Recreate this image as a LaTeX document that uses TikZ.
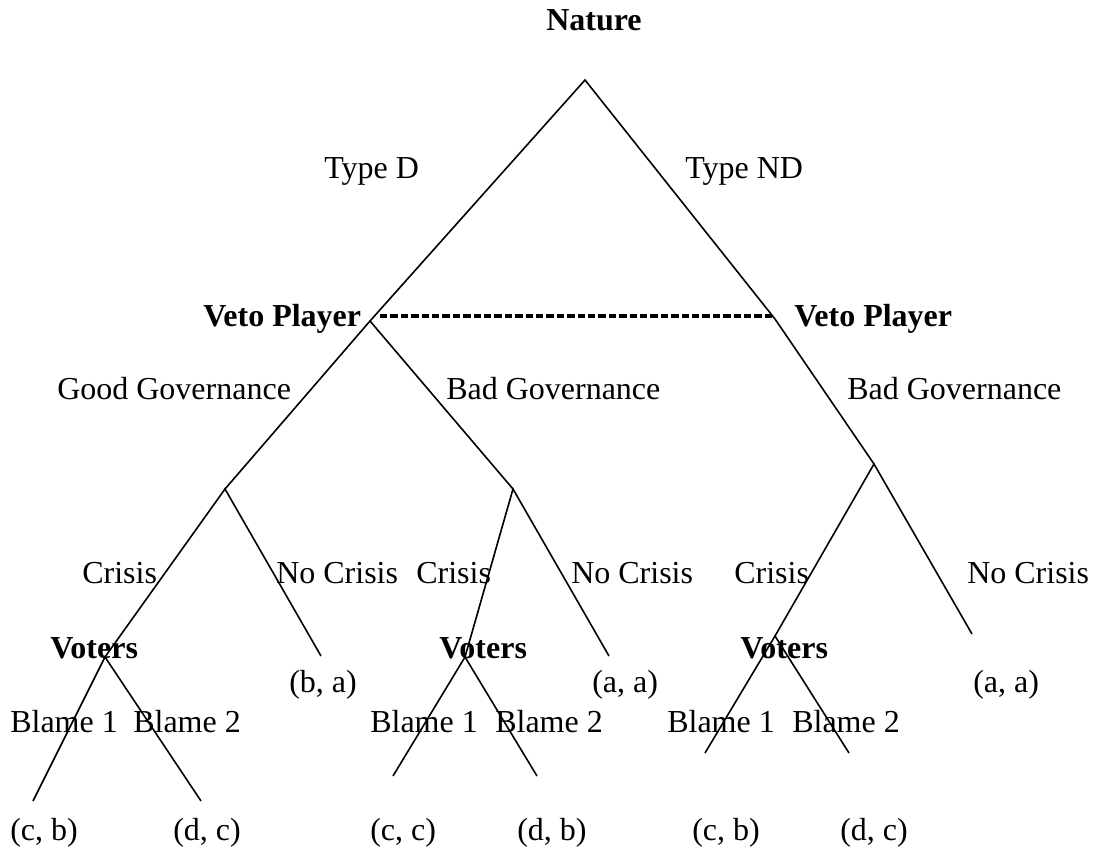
\documentclass[tikz,border=0pt]{standalone}
\usepackage{fontspec}
\setmainfont{Liberation Serif}
\begin{document}
\begin{tikzpicture}[x=0.75pt,y=-0.75pt,
  edge/.style={line width=1.2pt},
  infoset/.style={line width=2.6pt,dash pattern=on 5.6pt off 2.2pt},
  lbl/.style={anchor=base west,inner sep=0pt,font=\fontsize{24}{28}\selectfont},
  plr/.style={lbl,font=\fontsize{24}{28}\selectfont\bfseries}]
\useasboundingbox (0,0) rectangle (1093,850);
% tree vertices
\coordinate (root) at (585,80);
\coordinate (vpL) at (370,321);
\coordinate (vpR) at (775,319);
\coordinate (ggL) at (225,489);
\coordinate (bgM) at (513,489);
\coordinate (bgR) at (874,464);
\coordinate (vL) at (105,657);
\coordinate (ncL) at (321,656);
\coordinate (vM) at (465,657);
\coordinate (ncM) at (609,656);
\coordinate (vR) at (775,636);
\coordinate (ncR) at (972,634);
\coordinate (b1L) at (33,801);
\coordinate (b2L) at (201,801);
\coordinate (b1M) at (393,776);
\coordinate (b2M) at (537,776);
\coordinate (b1R) at (705,753);
\coordinate (b2R) at (849,753);
\coordinate (dsA) at (380,316);
\coordinate (dsB) at (772,316);
% edges
\draw[edge] (vpL) -- (root) -- (vpR);
\draw[edge] (ggL) -- (vpL) -- (bgM);
\draw[edge] (vpR) -- (bgR);
\draw[edge] (vL) -- (ggL) -- (ncL);
\draw[edge] (vM) -- (bgM) -- (ncM);
\draw[edge] (vR) -- (bgR) -- (ncR);
\draw[edge] (b1L) -- (vL) -- (b2L);
\draw[edge] (b1M) -- (vM) -- (b2M);
\draw[edge] (b1R) -- (vR) -- (b2R);
\draw[infoset] (dsA) -- (dsB);
% labels
\node[plr] (tNature) at (546,30) {Nature};
\node[lbl] (tTD) at (324,178) {Type D};
\node[lbl] (tTND) at (685,178) {Type ND};
\node[plr] (tVPL) at (203,326) {Veto Player};
\node[plr] (tVPR) at (794,326) {Veto Player};
\node[lbl] (tGG) at (57,399) {Good Governance};
\node[lbl] (tBGM) at (446,399) {Bad Governance};
\node[lbl] (tBGR) at (847,399) {Bad Governance};
\node[lbl] (tCL) at (82,583) {Crisis};
\node[lbl] (tNCL) at (276,583) {No Crisis};
\node[lbl] (tCM) at (416,583) {Crisis};
\node[lbl] (tNCM) at (571,583) {No Crisis};
\node[lbl] (tCR) at (734,583) {Crisis};
\node[lbl] (tNCR) at (967,583) {No Crisis};
\node[plr] (tVL) at (50,658) {Voters};
\node[plr] (tVM) at (439,658) {Voters};
\node[plr] (tVR) at (740,658) {Voters};
\node[lbl] (pBA) at (289,692) {(b, a)};
\node[lbl] (pAAM) at (592,692) {(a, a)};
\node[lbl] (pAAR) at (973,692) {(a, a)};
\node[lbl] (tB1L) at (10,732) {Blame 1};
\node[lbl] (tB2L) at (133,732) {Blame 2};
\node[lbl] (tB1M) at (370,732) {Blame 1};
\node[lbl] (tB2M) at (495,732) {Blame 2};
\node[lbl] (tB1R) at (667,732) {Blame 1};
\node[lbl] (tB2R) at (792,732) {Blame 2};
\node[lbl] (pCB1) at (10,840) {(c, b)};
\node[lbl] (pDC1) at (173,840) {(d, c)};
\node[lbl] (pCC) at (370,840) {(c, c)};
\node[lbl] (pDB) at (517,840) {(d, b)};
\node[lbl] (pCB2) at (692,840) {(c, b)};
\node[lbl] (pDC2) at (840,840) {(d, c)};
\end{tikzpicture}
\end{document}
